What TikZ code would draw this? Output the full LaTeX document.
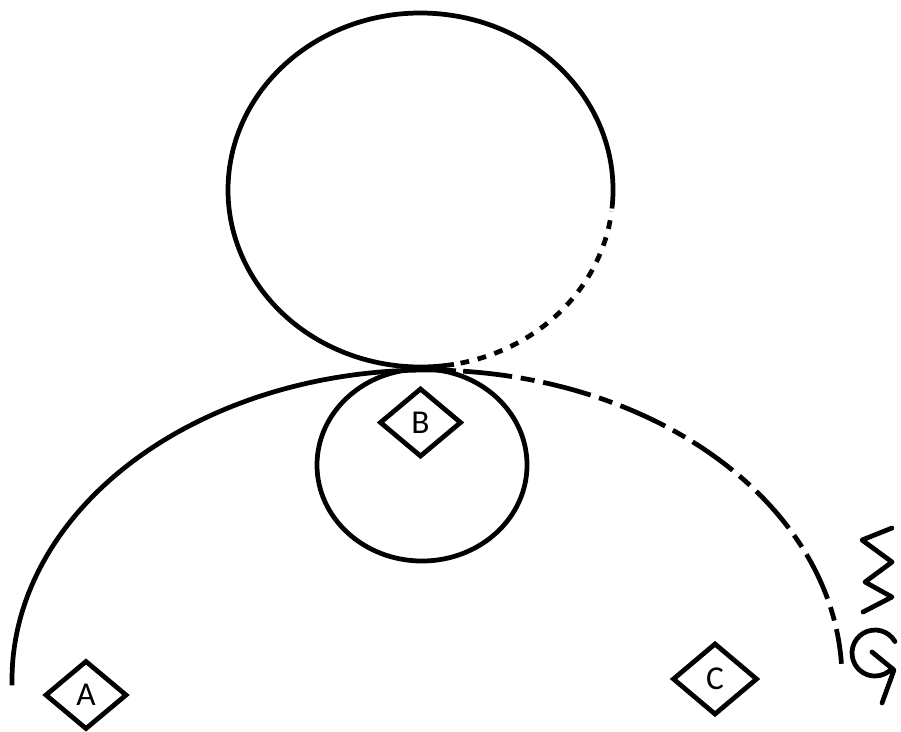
\documentclass[tikz,border=0pt]{standalone}
\usepackage{fontspec}
\setmainfont{Carlito}
\usetikzlibrary{shapes.geometric}
\tikzset{
  spot/.style={draw, diamond, line width=2.7pt, minimum width=1.64cm, minimum height=1.38cm, inner sep=0pt, font=\fontsize{19}{22}\selectfont},
  loopdots/.style={dash pattern=on 5pt off 5pt},
  trackdash/.style={dash pattern=on 28pt off 5pt on 8pt off 5pt}
}
\begin{document}
\begin{tikzpicture}[x=0.02cm, y=0.02cm, line width=2.7pt]
	\useasboundingbox (0,0) rectangle (901,-731);
	% top loop, dotted on its lower right
	\draw (420.5,-190) ++(-6:192.5 and 177) arc[start angle=-6, end angle=280, x radius=192.5, y radius=177];
	\draw[loopdots] (420.5,-190) ++(-78:192.5 and 177) arc[start angle=-78, end angle=-7, x radius=192.5, y radius=177];
	% big track
	\draw (427,-680) ++(181:415 and 310) arc[start angle=181, end angle=86, x radius=415, y radius=310];
	\draw[trackdash] (427,-680) ++(85:415 and 310) arc[start angle=85, end angle=3, x radius=415, y radius=310];
	% inner ring
	\draw (422,-465) ellipse[x radius=105, y radius=96];
	
	\node[spot] (A) at (86,-695) {A};
	\node[spot] (B) at (420.5,-422.5) {B};
	\node[spot, minimum width=1.7cm, minimum height=1.44cm] (C) at (715,-679) {C};
	
	% spring and curl
	\draw[line join=round, line cap=round] (892,-528) -- (862,-540) -- (892,-562) -- (865,-582) -- (892,-597) -- (863,-612);
	\draw[line cap=round] (875,-653) ++(30:23) arc[start angle=30, end angle=318, radius=23];
	\draw[line join=round, line cap=round] (872,-652) -- (894,-670) -- (882,-703);
\end{tikzpicture}
\end{document}
